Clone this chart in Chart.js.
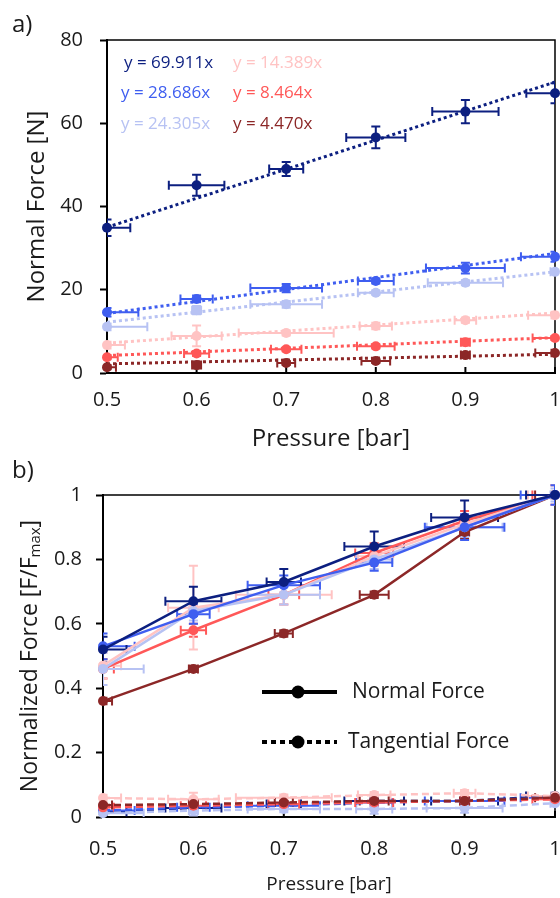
<!DOCTYPE html>
<html lang="en">
<head>
  <meta charset="UTF-8" />
  <title>Normal and tangential force vs pressure</title>
  <script src="https://cdn.jsdelivr.net/npm/chart.js"></script>
  <style>
    body { margin: 0; background: #fff; font-family: 'Open Sans', sans-serif; }
    #wrap { position: relative; width: 560px; height: 898px; overflow: hidden; }
    canvas { position: absolute; left: 0; }
    #chartA { top: 0; }
    #chartB { top: 450px; }
    .tag { position: absolute; left: 12px; font-size: 24px; line-height: 30px; color: #1a1a1a; }
    .eq { position: absolute; font-size: 17px; line-height: 20px; white-space: pre; }
  </style>
</head>
<body>
  <div id="wrap">
    <canvas id="chartA" width="560" height="460"></canvas>
    <canvas id="chartB" width="560" height="448"></canvas>
    <div class="tag" style="top: 8px;">a)</div>
    <div class="tag" style="top: 454px;">b)</div>
  </div>

  <script>
    const pressure = [0.5, 0.6, 0.7, 0.8, 0.9, 1.0];
    const xTicks = [0.5, 0.6, 0.7, 0.8, 0.9, 1];
    const yTicksA = [0, 20, 40, 60, 80];
    const yTicksB = [0, 0.2, 0.4, 0.6, 0.8, 1];

    // series order: navy, blue, light blue, pink, red, dark red
    const colors = ['#0c1f80', '#3f5ef0', '#b7c2f3', '#ffc3c3', '#ff5858', '#8c2727'];
    const fitLabels = ['y = 69.911x', 'y = 28.686x', 'y = 24.305x', 'y = 14.389x', 'y = 8.464x', 'y = 4.470x'];

    // a) normal force [N]
    const forceA = [
      [34.9, 45.1, 49.0, 56.6, 62.8, 67.2],
      [14.6, 17.8, 20.4, 22.1, 25.2, 27.9],
      [11.1, 15.1, 16.5, 19.3, 21.7, 24.3],
      [6.7, 8.9, 9.6, 11.3, 12.7, 13.9],
      [3.8, 4.7, 5.7, 6.4, 7.4, 8.4],
      [1.4, 1.9, 2.4, 2.9, 4.3, 4.8]
    ];
    const forceErrA = [
      [2.0, 2.5, 1.7, 2.6, 2.8, 2.4],
      [1.0, 0.8, 1.0, 0.6, 1.3, 1.2],
      [0.8, 1.0, 0.8, 0.5, 0.6, 0.6],
      [0.8, 2.5, 0.6, 0.8, 0.6, 0.8],
      [0.5, 0.6, 0.5, 0.5, 0.8, 0.5],
      [0.5, 0.8, 0.5, 0.5, 0.6, 0.8]
    ];
    // pressure spread, same for every plot of a series
    const pressErr = [
      [0.026, 0.031, 0.019, 0.033, 0.037, 0.032],
      [0.035, 0.018, 0.04, 0.02, 0.044, 0.038],
      [0.045, 0.005, 0.04, 0.02, 0.042, 0.005],
      [0.02, 0.028, 0.053, 0.018, 0.012, 0.03],
      [0.012, 0.014, 0.017, 0.021, 0.005, 0.025],
      [0.01, 0.005, 0.01, 0.016, 0.005, 0.022]
    ];
    // dotted fit lines: value at 0.5 bar and at 1 bar
    const fitStart = [35.0, 14.3, 12.2, 7.2, 4.2, 2.2];
    const fitEnd = [69.9, 28.7, 24.3, 14.4, 8.5, 4.5];

    // b) normalized force F/Fmax
    const normB = [
      [0.52, 0.67, 0.73, 0.84, 0.93, 1.0],
      [0.53, 0.63, 0.72, 0.79, 0.90, 1.0],
      [0.46, 0.64, 0.69, 0.80, 0.90, 1.0],
      [0.47, 0.65, 0.69, 0.81, 0.91, 1.0],
      [0.46, 0.58, 0.69, 0.82, 0.92, 1.0],
      [0.36, 0.46, 0.57, 0.69, 0.885, 1.0]
    ];
    const normErrB = [
      [0.04, 0.045, 0.04, 0.047, 0.053, 0.0],
      [0.04, 0.03, 0.03, 0.025, 0.04, 0.03],
      [0.05, 0.03, 0.03, 0.03, 0.03, 0.02],
      [0.04, 0.13, 0.03, 0.03, 0.03, 0.03],
      [0.03, 0.02, 0.03, 0.03, 0.03, 0.03],
      [0.01, 0.01, 0.01, 0.01, 0.02, 0.01]
    ];
    const tangB = [
      [0.016, 0.028, 0.04, 0.05, 0.05, 0.065],
      [0.02, 0.03, 0.035, 0.045, 0.05, 0.06],
      [0.012, 0.02, 0.025, 0.025, 0.028, 0.043],
      [0.059, 0.055, 0.06, 0.068, 0.074, 0.065],
      [0.03, 0.035, 0.04, 0.045, 0.05, 0.055],
      [0.037, 0.04, 0.045, 0.05, 0.05, 0.06]
    ];
    const tangErrB = [
      [0.01, 0.01, 0.01, 0.01, 0.01, 0.01],
      [0.01, 0.01, 0.01, 0.01, 0.01, 0.01],
      [0.015, 0.015, 0.01, 0.015, 0.015, 0.01],
      [0.01, 0.02, 0.01, 0.01, 0.01, 0.01],
      [0.01, 0.01, 0.01, 0.01, 0.01, 0.01],
      [0.005, 0.005, 0.005, 0.005, 0.005, 0.005]
    ];

    const legendLabels = ['Normal Force', 'Tangential Force'];

    // fit equation text placement (left, top) in page pixels
    const eqPos = [[124, 52], [121, 82], [121, 113], [233, 52], [233, 82], [233, 113]];
    const wrap = document.getElementById('wrap');
    fitLabels.forEach((t, i) => {
      const s = document.createElement('div');
      s.className = 'eq';
      s.textContent = t;
      s.style.left = eqPos[i][0] + 'px';
      s.style.top = eqPos[i][1] + 'px';
      s.style.color = colors[i];
      wrap.appendChild(s);
    });

    Chart.defaults.font.family = "'Open Sans', sans-serif";
    Chart.defaults.color = '#1a1a1a';
    Chart.defaults.animation = false;
    Chart.defaults.plugins.legend.display = false;
    Chart.defaults.plugins.tooltip.enabled = false;

    const setTicks = values => scale => { scale.ticks = values.map(v => ({ value: v })); };

    // error bars, drawn under the markers
    const errorBars = {
      id: 'errorBars',
      beforeDatasetsDraw(chart) {
        const { ctx, chartArea: a, scales: { x, y } } = chart;
        ctx.save();
        ctx.beginPath();
        ctx.rect(a.left, a.top - 20, a.right - a.left, a.bottom - a.top + 20);
        ctx.clip();
        const metas = chart.getSortedVisibleDatasetMetas();
        for (let m = metas.length - 1; m >= 0; m--) {
          const ds = chart.data.datasets[metas[m].index];
          if (!ds.errX) continue;
          ctx.strokeStyle = ds.borderColor;
          ctx.lineWidth = 2;
          ds.data.forEach((p, j) => {
            const px = x.getPixelForValue(p.x), py = y.getPixelForValue(p.y);
            const ex = ds.errX[j], ey = ds.errY[j];
            ctx.beginPath();
            if (ex > 0) {
              const l = x.getPixelForValue(p.x - ex), r = x.getPixelForValue(p.x + ex);
              ctx.moveTo(l, py); ctx.lineTo(r, py);
              ctx.moveTo(l, py - 4.5); ctx.lineTo(l, py + 4.5);
              ctx.moveTo(r, py - 4.5); ctx.lineTo(r, py + 4.5);
            }
            if (ey > 0) {
              const t = y.getPixelForValue(p.y + ey), b = y.getPixelForValue(p.y - ey);
              ctx.moveTo(px, t); ctx.lineTo(px, b);
              ctx.moveTo(px - 4.5, t); ctx.lineTo(px + 4.5, t);
              ctx.moveTo(px - 4.5, b); ctx.lineTo(px + 4.5, b);
            }
            ctx.stroke();
          });
        }
        ctx.restore();
      }
    };

    // top/right frame and inward x tick marks
    const frame = {
      id: 'frame',
      beforeDatasetsDraw(chart) {
        const { ctx, chartArea: a, scales: { x } } = chart;
        ctx.save();
        ctx.strokeStyle = '#000';
        ctx.lineWidth = 1.5;
        ctx.beginPath();
        ctx.moveTo(a.left, a.top); ctx.lineTo(a.right, a.top); ctx.lineTo(a.right, a.bottom);
        ctx.stroke();
        ctx.lineWidth = 2;
        ctx.beginPath();
        xTicks.forEach(v => {
          const px = x.getPixelForValue(v);
          ctx.moveTo(px, a.bottom); ctx.lineTo(px, a.bottom - 6);
        });
        ctx.stroke();
        ctx.restore();
      }
    };

    function axes(yMin, yMax, yTicks, yWidth, xHeight, opts) {
      return {
        x: {
          type: 'linear', min: 0.5, max: 1,
          afterBuildTicks: setTicks(xTicks),
          afterFit: s => { s.height = xHeight; s.paddingLeft = 0; s.paddingRight = 0; },
          grid: { drawOnChartArea: false, drawTicks: false },
          border: { color: '#000', width: 2 },
          ticks: { padding: opts.xPad, font: { size: 20 }, color: '#1a1a1a', callback: v => String(v) },
          title: { display: true, text: 'Pressure [bar]', font: { size: opts.xTitleSize }, color: '#1a1a1a', padding: { top: 0, bottom: opts.xTitlePad } }
        },
        y: {
          type: 'linear', min: yMin, max: yMax,
          afterBuildTicks: setTicks(yTicks),
          afterFit: s => { s.width = yWidth; s.paddingTop = 0; s.paddingBottom = 0; },
          grid: { drawOnChartArea: false, drawTicks: true, tickLength: 7, tickWidth: 2, tickColor: '#000' },
          border: { color: '#000', width: 2 },
          ticks: { padding: opts.yPad, font: { size: 20 }, color: '#1a1a1a', callback: v => String(v) },
          title: opts.yTitle
        }
      };
    }

    // ---- a) normal force ----
    const dsA = [];
    colors.forEach((c, i) => {
      dsA.push({
        data: pressure.map((p, j) => ({ x: p, y: forceA[i][j] })),
        showLine: false, pointRadius: 5, pointBorderWidth: 0,
        pointBackgroundColor: c, borderColor: c,
        errX: pressErr[i], errY: forceErrA[i], clip: false, order: i
      });
    });
    colors.forEach((c, i) => {
      dsA.push({
        data: [{ x: 0.5, y: fitStart[i] }, { x: 1, y: fitEnd[i] }],
        showLine: true, borderColor: c, borderWidth: 3, borderDash: [3, 3],
        pointRadius: 0, order: 10 + i
      });
    });

    new Chart(document.getElementById('chartA'), {
      type: 'scatter',
      data: { datasets: dsA },
      options: {
        responsive: false,
        layout: { padding: { top: 40, right: 5, left: 0, bottom: 0 } },
        scales: axes(0, 80, yTicksA, 107, 87, {
          xPad: 15, xTitleSize: 24, xTitlePad: 6, yPad: 17,
          yTitle: { display: true, text: 'Normal Force [N]', font: { size: 24 }, color: '#1a1a1a', padding: { top: 23, bottom: 0 } }
        })
      },
      plugins: [frame, errorBars]
    });

    // ---- b) normalized force ----
    const dsB = [];
    colors.forEach((c, i) => {
      dsB.push({
        data: pressure.map((p, j) => ({ x: p, y: normB[i][j] })),
        showLine: true, borderWidth: 2.5, borderColor: c,
        pointRadius: 5, pointBorderWidth: 0, pointBackgroundColor: c,
        errX: pressErr[i], errY: normErrB[i], clip: false, order: i
      });
    });
    colors.forEach((c, i) => {
      dsB.push({
        data: pressure.map((p, j) => ({ x: p, y: tangB[i][j] })),
        showLine: true, borderWidth: 2.5, borderColor: c, borderDash: [7, 4],
        pointRadius: 5, pointBorderWidth: 0, pointBackgroundColor: c,
        errX: pressErr[i], errY: tangErrB[i], clip: false, order: 10 - i
      });
    });

    const legendB = {
      id: 'legendB',
      afterDraw(chart) {
        const ctx = chart.ctx;
        const rows = [242, 292];
        ctx.save();
        ctx.strokeStyle = '#000';
        ctx.fillStyle = '#000';
        legendLabels.forEach((t, k) => {
          const y = rows[k];
          ctx.lineWidth = 4;
          ctx.setLineDash(k === 0 ? [] : [5, 4]);
          ctx.beginPath();
          ctx.moveTo(262, y); ctx.lineTo(337, y);
          ctx.stroke();
          ctx.setLineDash([]);
          ctx.beginPath();
          ctx.arc(298, y, 6.5, 0, Math.PI * 2);
          ctx.fill();
          ctx.font = "21px 'Open Sans', sans-serif";
          ctx.textBaseline = 'middle';
          ctx.fillStyle = '#1a1a1a';
          ctx.fillText(t, k === 0 ? 352 : 348, y);
          ctx.fillStyle = '#000';
        });
        ctx.restore();
      }
    };

    // y title with subscript
    const yTitleB = {
      id: 'yTitleB',
      afterDraw(chart) {
        const { ctx, chartArea: a } = chart;
        const main = 'Normalized Force [F/F', sub = 'max', end = ']';
        ctx.save();
        ctx.translate(30, (a.top + a.bottom) / 2);
        ctx.rotate(-Math.PI / 2);
        ctx.fillStyle = '#1a1a1a';
        ctx.textBaseline = 'middle';
        ctx.font = "23px 'Open Sans', sans-serif";
        const w1 = ctx.measureText(main).width, w3 = ctx.measureText(end).width;
        ctx.font = "15px 'Open Sans', sans-serif";
        const w2 = ctx.measureText(sub).width;
        let x0 = -(w1 + w2 + w3) / 2;
        ctx.font = "23px 'Open Sans', sans-serif";
        ctx.fillText(main, x0, 0);
        ctx.font = "15px 'Open Sans', sans-serif";
        ctx.fillText(sub, x0 + w1, 6);
        ctx.font = "23px 'Open Sans', sans-serif";
        ctx.fillText(end, x0 + w1 + w2, 0);
        ctx.restore();
      }
    };

    new Chart(document.getElementById('chartB'), {
      type: 'scatter',
      data: { datasets: dsB },
      options: {
        responsive: false,
        layout: { padding: { top: 45, right: 5, left: 0, bottom: 0 } },
        scales: axes(0, 1, yTicksB, 103, 81, {
          xPad: 20, xTitleSize: 19, xTitlePad: 2, yPad: 14,
          yTitle: { display: false }
        })
      },
      plugins: [frame, errorBars, legendB, yTitleB]
    });
  </script>
</body>
</html>
